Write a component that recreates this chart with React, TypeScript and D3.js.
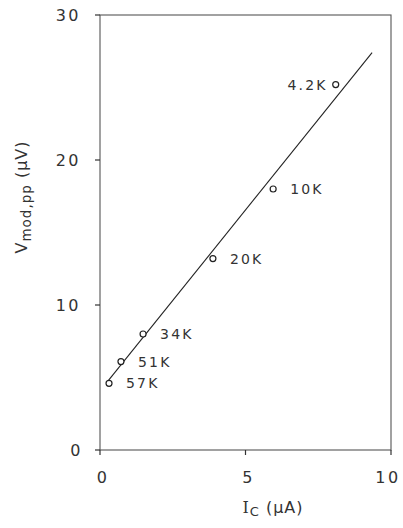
import React from "react";
import * as d3 from "d3";

// Measured points: collector current (µA) vs. peak-to-peak modulation voltage (µV)
const currents = [8.1, 5.95, 3.88, 1.48, 0.72, 0.31];
const voltages = [25.2, 18.0, 13.2, 8.0, 6.1, 4.6];
const resistances = ["4.2K", "10K", "20K", "34K", "51K", "57K"];

// Straight-line fit through the data
const fitCurrents = [0.25, 9.35];
const fitVoltages = [4.7, 27.4];

const xTicks = [0, 5, 10];
const yTicks = [0, 10, 20, 30];

const W = 403;
const H = 528;
const left = 100;
const right = 391;
const top = 15;
const bottom = 450;

const font = "'DejaVu Sans', Verdana, sans-serif";

export default function App() {
  const x = d3.scaleLinear().domain([0, 10]).range([left, right]);
  const y = d3.scaleLinear().domain([0, 30]).range([bottom, top]);
  const line = d3
    .line<number>()
    .x((_, i) => x(fitCurrents[i]))
    .y((d) => y(d));

  // label placement: on which side of the marker the resistance is written
  const labelLeft = [true, false, false, false, false, false];

  return (
    <svg
      width={W}
      height={H}
      style={{ position: "absolute", left: 0, top: 0, background: "#fff" }}
    >
      {/* frame */}
      <rect
        x={left}
        y={top}
        width={right - left}
        height={bottom - top}
        fill="none"
        stroke="#555"
        strokeWidth={1.1}
      />
      {/* y ticks */}
      {yTicks.map((t) => (
        <g key={"y" + t}>
          <line x1={left - 5} x2={left} y1={y(t)} y2={y(t)} stroke="#333" strokeWidth={1.2} />
          <text
            x={t === 0 ? 83 : 81}
            y={y(t)}
            dy="0.36em"
            textAnchor="end"
            fontFamily={font}
            fontSize={16}
            letterSpacing={2.5}
            fill="#333"
          >
            {t}
          </text>
        </g>
      ))}
      {/* x ticks */}
      {xTicks.map((t) => (
        <g key={"x" + t}>
          <line x1={x(t)} x2={x(t)} y1={bottom} y2={bottom + 5} stroke="#333" strokeWidth={1.2} />
          <text
            x={x(t) + (t === 10 ? -3 : 3)}
            y={bottom + 33}
            textAnchor="middle"
            fontFamily={font}
            fontSize={16}
            letterSpacing={2.5}
            fill="#333"
          >
            {t}
          </text>
        </g>
      ))}
      {/* fit line */}
      <path d={line(fitVoltages) ?? ""} fill="none" stroke="#222" strokeWidth={1.1} />
      {/* data markers and resistance labels */}
      {currents.map((c, i) => (
        <g key={resistances[i]}>
          <circle cx={x(c)} cy={y(voltages[i])} r={3} fill="#fff" stroke="#222" strokeWidth={1.2} />
          <text
            x={labelLeft[i] ? x(c) - 8 : x(c) + 17}
            y={y(voltages[i])}
            dy="0.36em"
            textAnchor={labelLeft[i] ? "end" : "start"}
            fontFamily={font}
            fontSize={14}
            letterSpacing={2.2}
            fill="#333"
          >
            {resistances[i]}
          </text>
        </g>
      ))}
      {/* y axis title */}
      <text
        transform="translate(27,197) rotate(-90)"
        textAnchor="middle"
        fontFamily={font}
        fontSize={16}
        letterSpacing={1}
        fill="#333"
      >
        V
        <tspan fontSize={13.5} dy={4}>mod,pp</tspan>
        <tspan dy={-4}> (µV)</tspan>
      </text>
      {/* x axis title */}
      <text
        x={273}
        y={513}
        textAnchor="middle"
        fontFamily={font}
        fontSize={16}
        letterSpacing={1}
        fill="#333"
      >
        <tspan fontFamily="'DejaVu Serif', serif">I</tspan>
        <tspan fontSize={13} dy={3}>C</tspan>
        <tspan dy={-3}> (µA)</tspan>
      </text>
    </svg>
  );
}
